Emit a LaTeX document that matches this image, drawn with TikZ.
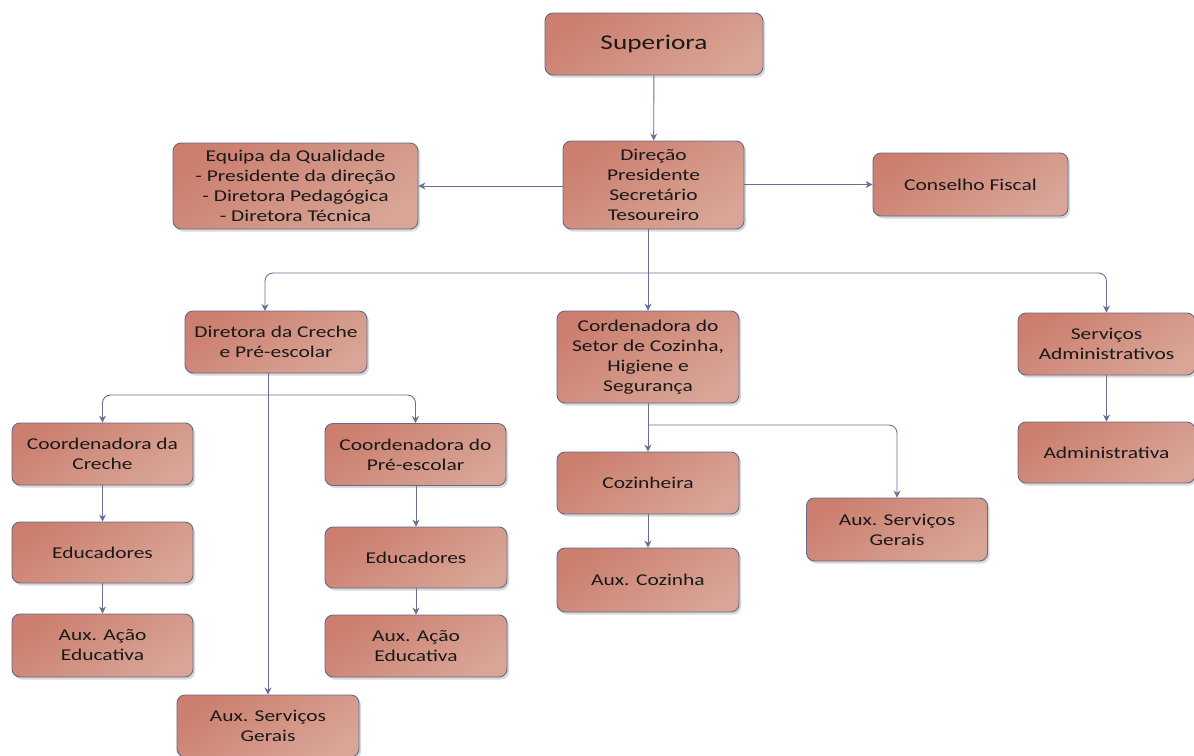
\documentclass[tikz,border=0pt]{standalone}
\usepackage{fontspec}
\setmainfont{Carlito}[FakeStretch=1.3]
\usepackage{tikz}
\usetikzlibrary{shadows}
\usetikzlibrary{arrows.meta}
\usetikzlibrary{positioning}
\definecolor{boxtop}{RGB}{204,127,111}
\definecolor{boxbot}{RGB}{216,165,150}
\definecolor{boxline}{RGB}{98,106,140}
\definecolor{conn}{RGB}{104,112,146}
\definecolor{boxtext}{RGB}{25,25,25}
\tikzstyle{org}=[rectangle,draw=boxline,line width=0.9pt,rounded corners=8pt,align=center,inner sep=0pt,top color=boxtop,bottom color=boxbot,shading angle=35,drop shadow={opacity=0.3,shadow xshift=2pt,shadow yshift=-2.5pt},minimum width=181pt,minimum height=62pt,text=boxtext,font=\fontsize{16.5}{20}\selectfont]
\tikzstyle{arrow}=[->,>={Stealth[length=7pt,width=7pt]},draw=conn,line width=0.9pt,rounded corners=8pt]

\begin{document}
\begin{tikzpicture}
	[x=1pt,y=-1pt]
	\useasboundingbox (0,0) rectangle (1194,755);
	% top levels
	\node (sup) [org,minimum width=218pt,font=\fontsize{21}{24}\selectfont] at (654,44) {Superiora};
	\node (dir) [org,minimum height=88pt] at (653.5,185) {Direção\\Presidente\\Secretário\\Tesoureiro};
	\node (eq) [org,minimum width=245pt,minimum height=86pt] at (295.5,186) {Equipa da Qualidade\\- Presidente da direção\\- Diretora Pedagógica\\- Diretora Técnica};
	\node (cf) [org,minimum width=195pt,minimum height=63pt] at (970.5,184.5) {Conselho Fiscal};
	% second level
	\node (dcr) [org,minimum width=182pt] at (276,342) {Diretora da Creche\\e Pré-escolar};
	\node (cord) [org,minimum width=182pt,minimum height=92pt] at (648,357) {Cordenadora do\\Setor de Cozinha,\\Higiene e\\Segurança};
	\node (sadm) [org,minimum width=177pt] at (1106.5,344) {Serviços\\Administrativos};
	\node (adm) [org,minimum width=177pt,minimum height=61pt] at (1106.5,452.5) {Administrativa};
	% creche and pre-escolar
	\node (ccr) [org] at (102.5,454) {Coordenadora da\\Creche};
	\node (cpe) [org] at (415.5,454.5) {Coordenadora do\\Pré-escolar};
	\node (ed1) [org,minimum height=61pt] at (102.5,552.5) {Educadores};
	\node (ed2) [org,minimum width=182pt,minimum height=61pt] at (416,557.5) {Educadores};
	\node (aa1) [org,minimum height=63pt] at (102.5,645.5) {Aux. Ação\\Educativa};
	\node (aa2) [org,minimum width=182pt] at (416,646) {Aux. Ação\\Educativa};
	\node (asg1) [org,minimum width=182pt] at (268,726) {Aux. Serviços\\Gerais};
	% kitchen
	\node (coz) [org,minimum width=182pt] at (648,483) {Cozinheira};
	\node (acz) [org,minimum width=182pt,minimum height=64pt] at (648,580) {Aux. Cozinha};
	\node (asg2) [org,minimum height=63pt] at (897,529.5) {Aux. Serviços\\Gerais};
	% joints
	\coordinate (j1) at (648,273);
	\coordinate (j2) at (268,395);
	\coordinate (j3) at (648,425);
	% connectors
	\draw[arrow] (sup) -- (dir);
	\draw[arrow] (dir.west |- eq.east) -- (eq.east);
	\draw[arrow] (dir.east |- cf.west) -- (cf.west);
	\draw[arrow] (dir.south -| cord.north) -- (cord.north);
	\draw[arrow] (j1) -| (265,311);
	\draw[arrow] (j1) -| (sadm.north);
	\draw[arrow] (dcr.south -| j2) -- (asg1.north -| j2);
	\draw[arrow] (j2) -| (ccr.north);
	\draw[arrow] (j2) -| (cpe.north);
	\draw[arrow] (ccr) -- (ed1);
	\draw[arrow] (ed1) -- (aa1);
	\draw[arrow] (cpe.south -| ed2.north) -- (ed2.north);
	\draw[arrow] (ed2) -- (aa2);
	\draw[arrow] (cord) -- (coz);
	\draw[arrow] (j3) -| (asg2.north);
	\draw[arrow] (coz) -- (acz);
	\draw[arrow] (sadm) -- (adm);
\end{tikzpicture}
\end{document}
